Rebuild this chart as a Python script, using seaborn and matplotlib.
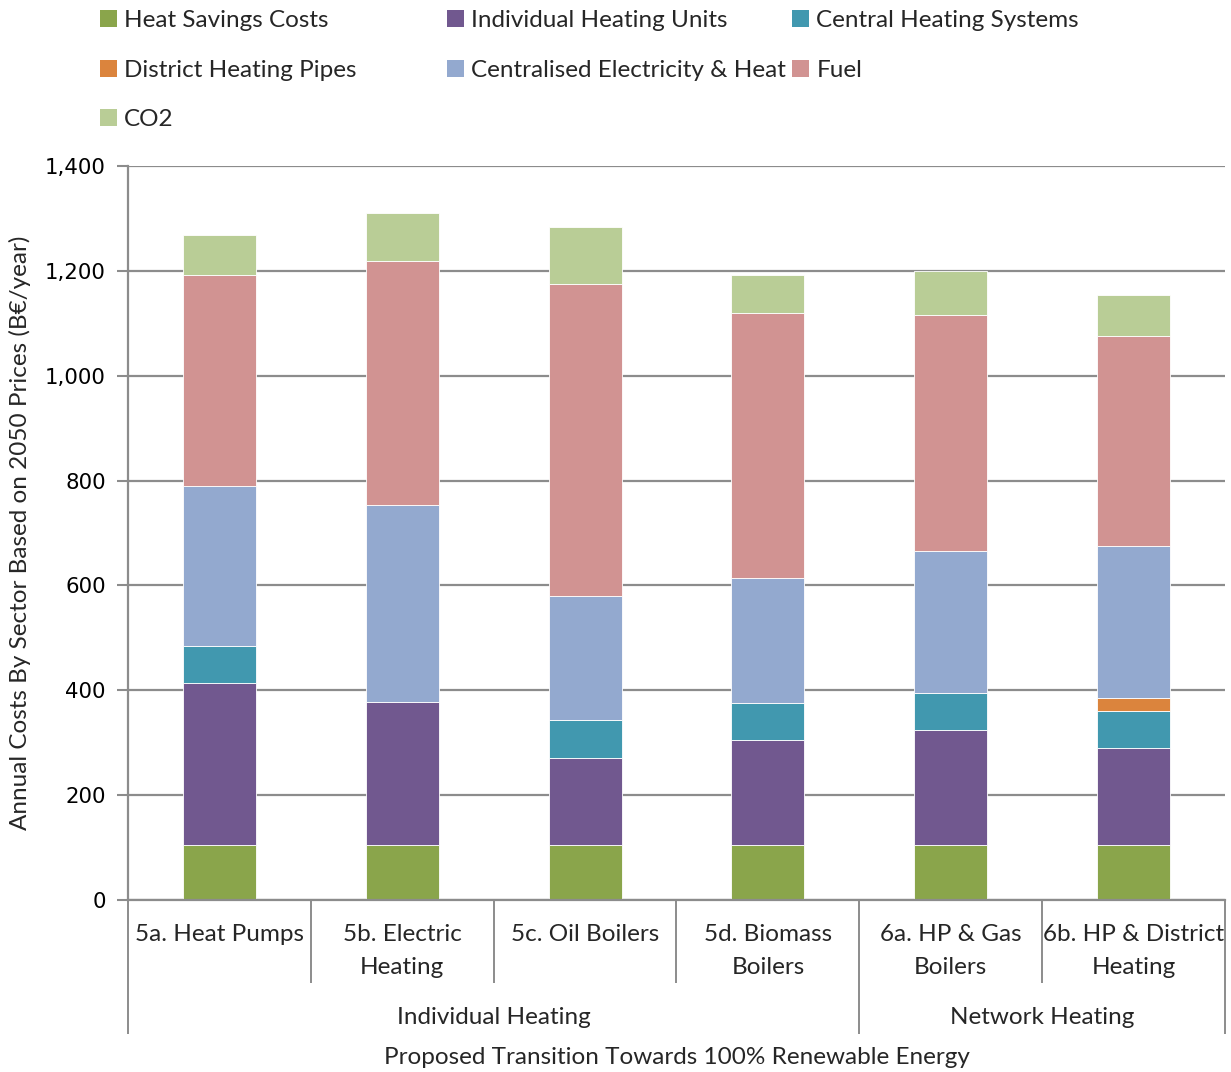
import numpy as np
import pandas as pd
import matplotlib
matplotlib.use("Agg")
import matplotlib.pyplot as plt
from matplotlib.patches import Patch
import seaborn as sns

# Scenario labels (two lines where wrapped) and their groups
scenarios = ["5a. Heat Pumps", "5b. Electric\nHeating", "5c. Oil Boilers",
             "5d. Biomass\nBoilers", "6a. HP & Gas\nBoilers", "6b. HP & District\nHeating"]
groups = ["Individual Heating", "Network Heating"]
group_sizes = [4, 2]

# Annual cost components (B€/year), stacked bottom to top
heat_savings = [105, 105, 105, 105, 105, 105]
individual_units = [309, 273, 166, 200, 219, 185]
central_systems = [70, 0, 72, 71, 71, 70]
district_pipes = [0, 0, 0, 0, 0, 25]
centralised_elec_heat = [306, 375, 237, 238, 271, 290]
fuel = [402, 466, 595, 506, 450, 401]
co2 = [76, 91, 109, 72, 84, 78]

series_names = ["Heat Savings Costs", "Individual Heating Units", "Central Heating Systems",
                "District Heating Pipes", "Centralised Electricity & Heat", "Fuel", "CO2"]
series_values = [heat_savings, individual_units, central_systems, district_pipes,
                 centralised_elec_heat, fuel, co2]
colors = ["#8aa54b", "#71588f", "#4198af", "#db843d", "#93a9cf", "#d19392", "#b9cd96"]

df = pd.DataFrame({"scenario": scenarios})
for name, vals in zip(series_names, series_values):
    df[name] = vals

sns.set_theme(style="white")
plt.rcParams["font.family"] = ["Lato", "DejaVu Sans"]
FS = 17.5

fig = plt.figure(figsize=(12.31, 10.72), dpi=100)
W, H = 1231, 1072
ax = fig.add_axes([128 / W, (H - 900) / H, (1225 - 128) / W, (900 - 166) / H])

grid_c = "#8c8c8c"
ax.set_axisbelow(True)
ax.yaxis.grid(True, color=grid_c, linewidth=1.6)

bottom = np.zeros(len(scenarios))
for name, col in zip(series_names, colors):
    vals = df[name].to_numpy(dtype=float)
    sns.barplot(data=df, x="scenario", y=name, order=scenarios, color=col,
                saturation=1, width=0.4, bottom=bottom, errorbar=None,
                edgecolor="white", linewidth=0.6, ax=ax)
    bottom = bottom + vals

ax.set_xlim(-0.5, len(scenarios) - 0.5)
ax.set_ylim(0, 1400)
ax.set_yticks(np.arange(0, 1401, 200))
ax.set_yticklabels([f"{v:,}" for v in range(0, 1401, 200)],
                   fontfamily="DejaVu Sans", fontsize=15.3)
ax.tick_params(axis="y", direction="out", length=8, width=1.5, color=grid_c,
               pad=8, left=True, labelcolor="black")
ax.set_xticks([])
ax.set_xlabel("")
ax.set_ylabel("Annual Costs By Sector Based on 2050 Prices (B€/year)",
              fontsize=FS, labelpad=10)

for s in ["top", "right"]:
    ax.spines[s].set_visible(False)
for s in ["left", "bottom"]:
    ax.spines[s].set_color(grid_c)
    ax.spines[s].set_linewidth(1.6)

# Multi-level category axis
tr = ax.get_xaxis_transform()
ah = 900 - 166
fy = lambda py: (900 - py) / ah
short_bottom = fy(983)
long_bottom = fy(1034)
boundaries = np.arange(len(scenarios) + 1) - 0.5
group_edges = np.concatenate([[0], np.cumsum(group_sizes)]) - 0.5
for b in boundaries:
    yb = long_bottom if b in group_edges else short_bottom
    ax.plot([b, b], [0, yb], transform=tr, color=grid_c, linewidth=1.4,
            clip_on=False, solid_capstyle="butt")

for i, lab in enumerate(scenarios):
    ax.text(i, fy(924), lab, transform=tr, ha="center", va="top",
            fontsize=FS, linespacing=1.7)

start = 0
for g, n in zip(groups, group_sizes):
    ax.text(start + (n - 1) / 2, fy(1018), g, transform=tr, ha="center",
            va="center", fontsize=FS)
    start += n

ax.text(0.5, fy(1057), "Proposed Transition Towards 100% Renewable Energy",
        transform=ax.transAxes, ha="center", va="center", fontsize=FS)

# Legend laid out in three columns, filled row by row
handles = [Patch(facecolor=c, edgecolor="none") for c in colors]
columns = [[0, 3, 6], [1, 4], [2, 5]]
col_x = [100, 447, 792]
for xs, idx in zip(col_x, columns):
    fig.legend([handles[i] for i in idx], [series_names[i] for i in idx],
               loc="upper left", bbox_to_anchor=(xs / W, 1 - 10 / H),
               frameon=False, fontsize=FS, handlelength=0.7, handleheight=0.7,
               handletextpad=0.3, labelspacing=1.18, borderpad=0, borderaxespad=0)

fig.savefig("out.png", dpi=100)
